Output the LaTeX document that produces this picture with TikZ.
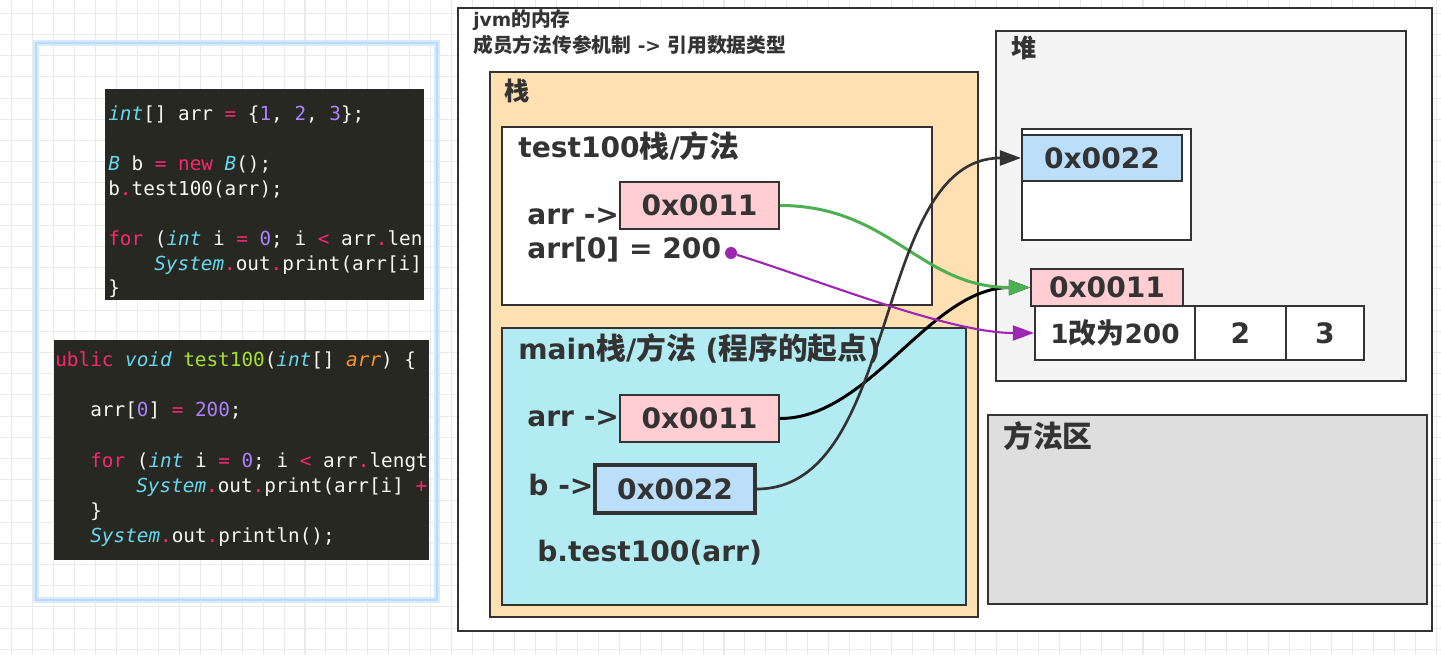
\documentclass[tikz,border=0pt]{standalone}
\usepackage{fontspec}
\setmainfont{DejaVu Sans}
\setmonofont{DejaVu Sans Mono}
\newfontfamily\zh[Scale=1.06]{Noto Sans CJK SC}
\usetikzlibrary{arrows.meta}

\definecolor{codebg}{HTML}{272822}
\definecolor{codefg}{HTML}{F8F8F2}
\definecolor{kwpink}{HTML}{F92672}
\definecolor{tycyan}{HTML}{66D9EF}
\definecolor{numpurple}{HTML}{AE81FF}
\definecolor{fngreen}{HTML}{A6E22E}
\definecolor{argorange}{HTML}{FD971F}
\definecolor{stackbg}{HTML}{FFE0B2}
\definecolor{mainbg}{HTML}{B2EBF2}
\definecolor{heapbg}{HTML}{F4F4F4}
\definecolor{methodbg}{HTML}{DEDEDE}
\definecolor{addrpink}{HTML}{FFCDD2}
\definecolor{addrblue}{HTML}{BBDEFB}
\definecolor{edgegrey}{HTML}{333333}
\definecolor{gridgrey}{HTML}{EAEAEA}
\definecolor{glowblue}{HTML}{A8D1FB}
\definecolor{arrowgreen}{HTML}{4CAF50}
\definecolor{arrowpurple}{HTML}{9C27B0}

% code colouring
\newcommand{\cdkw}[1]{\textcolor{kwpink}{#1}}
\newcommand{\cdty}[1]{\textcolor{tycyan}{\itshape #1}}
\newcommand{\cdnum}[1]{\textcolor{numpurple}{#1}}
\newcommand{\cdfn}[1]{\textcolor{fngreen}{#1}}
\newcommand{\cdarg}[1]{\textcolor{argorange}{\itshape #1}}
\newcommand{\pxs}{0.02cm}

\tikzset{
  gridline/.style={draw=gridgrey,line width=0.6pt},
  codeline/.style={anchor=base west,inner sep=0pt,text=codefg,font=\ttfamily\fontsize{11}{13}\selectfont},
  frame/.style={draw=edgegrey,line width=1.1pt,inner sep=0pt},
  membox/.style={draw=edgegrey,line width=1.1pt,inner sep=0pt,text=edgegrey,font=\bfseries\fontsize{16}{19}\selectfont},
  memtext/.style={anchor=base west,inner sep=0pt,text=edgegrey,font=\bfseries\fontsize{16}{19}\selectfont},
  titletext/.style={anchor=base west,inner sep=0pt,text=edgegrey,font=\bfseries\fontsize{10.6}{12}\selectfont},
  pointer/.style={line width=1.7pt,-{Triangle[length=12pt,width=8.5pt]}},
}

\begin{document}
\begin{tikzpicture}[x=0.02cm,y=-0.02cm]
        \useasboundingbox (0,0) rectangle (1441,655);
        \fill[white] (0,0) rectangle (1441,655);

        % background grid
        \foreach \gx in {0,...,68}
            \draw[gridline] (11.7+\gx*20.95,0) -- ++(0,655);
        \foreach \gy in {0,...,30}
            \draw[gridline] (0,13.3+\gy*21.2) -- ++(1441,0);

        % code panel
        \draw[glowblue!45,line width=3pt] (36,43) rectangle (437,600);
        \draw[glowblue!80,line width=1pt] (36,43) rectangle (437,600);
        \node[fill=codebg,inner sep=0pt,minimum width=319*\pxs,minimum height=211*\pxs] (codeA) at (264.5,194.5){};
        \node[fill=codebg,inner sep=0pt,minimum width=375*\pxs,minimum height=220*\pxs] (codeB) at (241.5,450){};

        \node[codeline] (codeA1) at (108,121){\cdty{int}[] arr \cdkw{=} \{\cdnum{1}, \cdnum{2}, \cdnum{3}\};};
        \node[codeline] (codeA2) at (108,171){\cdty{B} b \cdkw{=} \cdkw{new} \cdty{B}();};
        \node[codeline] (codeA3) at (108,196){b\cdkw{.}test100(arr);};
        \node[codeline] (codeA4) at (108,246){\cdkw{for} (\cdty{int} i \cdkw{=} \cdnum{0}; i \cdkw{<} arr\cdkw{.}len};
        \node[codeline] (codeA5) at (154,271){\cdty{System}\cdkw{.}out\cdkw{.}print(arr[i]};
        \node[codeline] (codeA6) at (108,295){\}};

        \node[codeline] (codeB1) at (55,367){\cdkw{ublic} \cdty{void} \cdfn{test100}(\cdty{int}[] \cdarg{arr}) \{};
        \node[codeline] (codeB2) at (90,417){arr[\cdnum{0}] \cdkw{=} \cdnum{200};};
        \node[codeline] (codeB3) at (90,467){\cdkw{for} (\cdty{int} i \cdkw{=} \cdnum{0}; i \cdkw{<} arr\cdkw{.}lengt};
        \node[codeline] (codeB4) at (136,492){\cdty{System}\cdkw{.}out\cdkw{.}print(arr[i] \cdkw{+}};
        \node[codeline] (codeB5) at (90,517){\}};
        \node[codeline] (codeB6) at (90,542){\cdty{System}\cdkw{.}out\cdkw{.}println();};

        % jvm memory
        \node[frame,fill=white,minimum width=974*\pxs,minimum height=623*\pxs] (jvm) at (945,319.5){};
        \node[titletext] (jvmtitle) at (473,27){jvm{\zh 的内存}};
        \node[titletext] (jvmsub) at (473,53){{\zh 成员方法传参机制} -> {\zh 引用数据类型}};

        % stack
        \node[frame,fill=stackbg,minimum width=488*\pxs,minimum height=545*\pxs] (stack) at (734,344.5){};
        \node[memtext,font=\bfseries\fontsize{13.5}{15}\selectfont] (stacklbl) at (504,101){\zh 栈};

        \node[frame,fill=white,minimum width=430*\pxs,minimum height=178*\pxs] (test100frame) at (717,216){};
        \node[memtext] (test100lbl) at (518,158){test100{\zh 栈}/{\zh 方法}};
        \node[memtext] (arrlblA) at (527,225){arr ->};
        \node[membox,fill=addrpink,minimum width=159*\pxs,minimum height=47*\pxs] (t0011) at (699.5,205.5){0x0011};
        \node[memtext] (setlbl) at (527,259){arr[0] = 200};
        \node[circle,fill=arrowpurple,inner sep=0pt,minimum size=12*\pxs] (dot200) at (731,253){};

        \node[frame,fill=mainbg,minimum width=464*\pxs,minimum height=277*\pxs] (mainframe) at (734,466.5){};
        \node[memtext] (mainlbl) at (518,359){main{\zh 栈}/{\zh 方法} ({\zh 程序的起点})};
        \node[memtext] (arrlblB) at (527,426){arr ->};
        \node[membox,fill=addrpink,minimum width=159*\pxs,minimum height=47*\pxs] (m0011) at (699.5,418.5){0x0011};
        \node[memtext] (blbl) at (528,495){b ->};
        \node[membox,fill=addrblue,line width=2pt,minimum width=160*\pxs,minimum height=48*\pxs] (b0022) at (675,489){0x0022};
        \node[memtext] (calllbl) at (537,561){b.test100(arr)};

        % heap
        \node[frame,fill=heapbg,minimum width=410*\pxs,minimum height=350*\pxs] (heap) at (1201,206){};
        \node[memtext,font=\bfseries\fontsize{13.5}{15}\selectfont] (heaplbl) at (1011,58){\zh 堆};
        \node[frame,fill=white,minimum width=169*\pxs,minimum height=111*\pxs] (heapobj) at (1106.5,184.5){};
        \node[membox,fill=addrblue,minimum width=160*\pxs,minimum height=46*\pxs] (h0022) at (1102,158){0x0022};
        \node[membox,fill=addrpink,minimum width=152*\pxs,minimum height=37*\pxs] (h0011) at (1107,287.5){0x0011};
        \node[membox,fill=white,font=\bfseries\fontsize{15}{18}\selectfont,minimum width=160*\pxs,minimum height=54*\pxs] (cell1) at (1115,333){1{\zh 改为}200};
        \node[membox,fill=white,minimum width=91*\pxs,minimum height=54*\pxs] (cell2) at (1240.5,333){2};
        \node[membox,fill=white,minimum width=78*\pxs,minimum height=54*\pxs] (cell3) at (1325,333){3};

        % method area
        \node[frame,fill=methodbg,minimum width=439*\pxs,minimum height=189*\pxs] (methodarea) at (1207.5,509.5){};
        \node[memtext] (methodlbl) at (1003,447){\zh 方法区};

        % references
        \draw[pointer,black] (m0011.east) .. controls +(90,0) and +(-100,0) .. (h0011.west);
        \draw[pointer,arrowgreen] (t0011.east) .. controls +(110,0) and +(-110,0) .. (h0011.west);
        \draw[pointer,edgegrey,line width=1.5pt] (b0022.east) .. controls +(145,0) and +(-150,0) .. (h0022.west);
        \draw[pointer,arrowpurple,line width=1.2pt] (dot200) .. controls +(90,28) and +(-85,0) .. (cell1.west);
    \end{tikzpicture}
\end{document}
